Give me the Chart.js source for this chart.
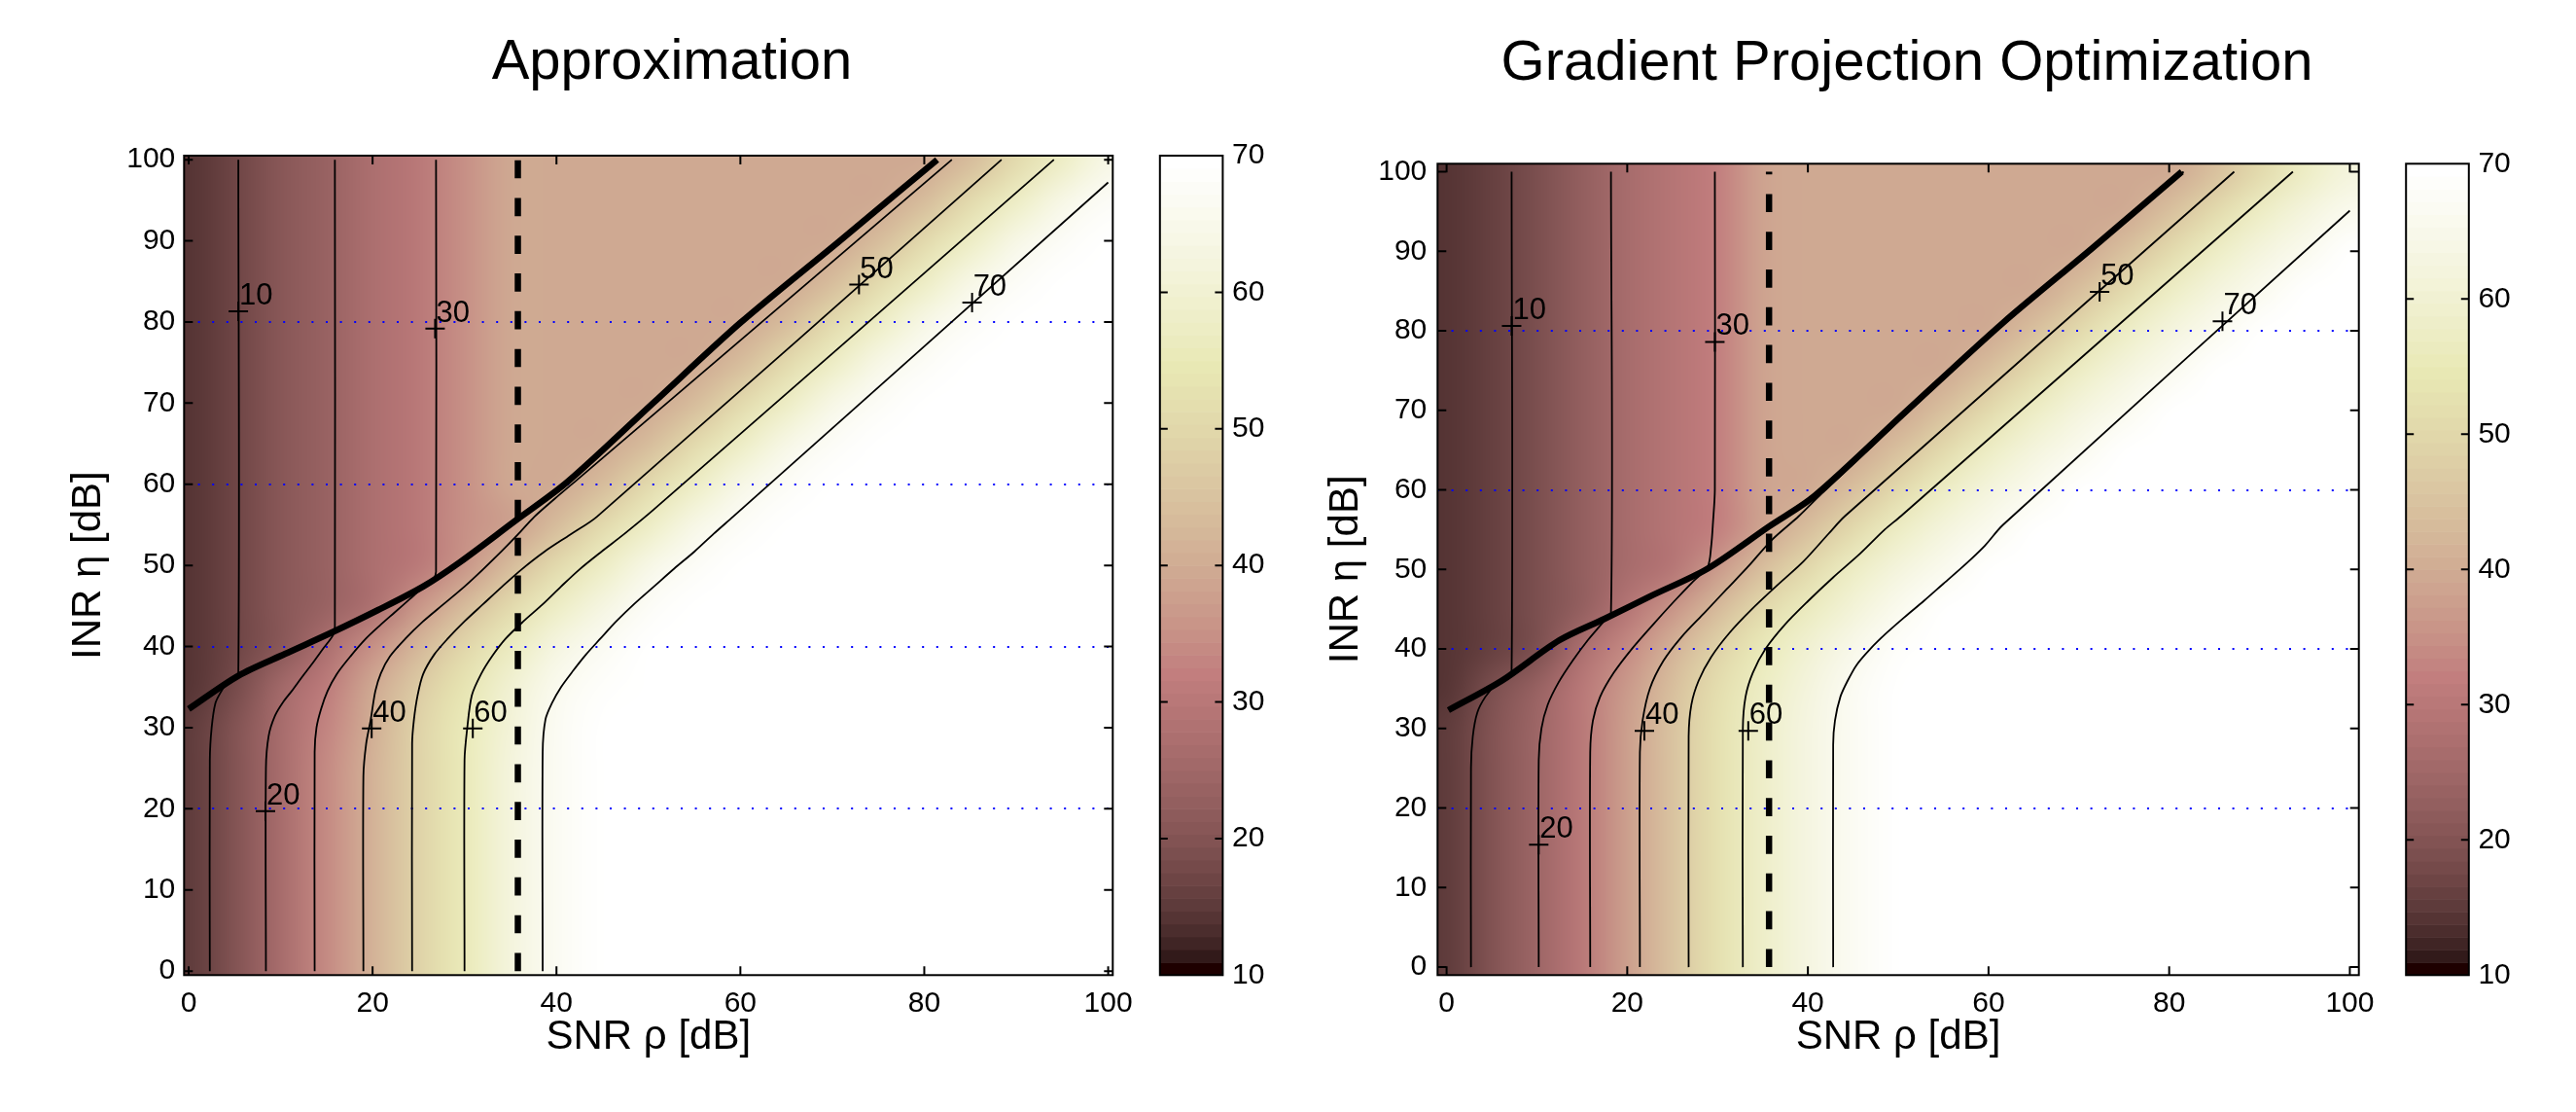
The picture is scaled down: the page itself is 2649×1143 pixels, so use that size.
<!DOCTYPE html>
<html>
<head>
<meta charset="utf-8">
<script src="https://cdn.jsdelivr.net/npm/chart.js@4.4.1/dist/chart.umd.min.js"></script>
<style>
  html, body { margin: 0; padding: 0; background: #fff; }
  #wrap { position: relative; width: 2649px; height: 1143px; }
  canvas { position: absolute; top: 0; }
  #cvApprox { left: 0; }
  #cvGrad { left: 1325px; }
</style>
</head>
<body>
<div id="wrap">
  <canvas id="cvApprox" width="1325" height="1143"></canvas>
  <canvas id="cvGrad" width="1324" height="1143"></canvas>
</div>
<script>
// ---- axes ----
const xTicks = [0, 20, 40, 60, 80, 100];
const yTicks = [0, 10, 20, 30, 40, 50, 60, 70, 80, 90, 100];
const barTicks = [10, 20, 30, 40, 50, 60, 70];
const dottedRows = [20, 40, 60, 80];

// ---- heatmap sample positions (read every 5 dB) ----
const fieldX = [0, 5, 10, 15, 20, 25, 30, 35, 40, 45, 50, 55, 60, 65, 70, 75, 80, 85, 90, 95, 100];
const fieldY = [0, 5, 10, 15, 20, 25, 30, 35, 40, 45, 50, 55, 60, 65, 70, 75, 80, 85, 90, 95, 100];

// colour values, one row per fieldY (bottom first)
const approxField = [
  [15, 20, 26.7, 33.5, 41.3, 49, 55.7, 61.8, 66.5, 69.5, 70, 70, 70, 70, 70, 70, 70, 70, 70, 70, 70],
  [15, 20, 26.7, 33.5, 41.3, 49, 55.7, 61.8, 66.5, 69.5, 70, 70, 70, 70, 70, 70, 70, 70, 70, 70, 70],
  [15, 20, 26.7, 33.5, 41.3, 49, 55.7, 61.8, 66.5, 69.5, 70, 70, 70, 70, 70, 70, 70, 70, 70, 70, 70],
  [15, 20, 26.7, 33.5, 41.3, 49, 55.7, 61.8, 66.5, 69.5, 70, 70, 70, 70, 70, 70, 70, 70, 70, 70, 70],
  [15, 20, 26.7, 33.5, 41.3, 49, 55.7, 61.8, 66.5, 69.5, 70, 70, 70, 70, 70, 70, 70, 70, 70, 70, 70],
  [15, 20, 26.7, 33.5, 41.3, 49, 55.7, 61.8, 66.5, 69.5, 70, 70, 70, 70, 70, 70, 70, 70, 70, 70, 70],
  [15, 19.6, 26.3, 33, 40.9, 48.5, 55.3, 61.5, 66.3, 69.4, 70, 70, 70, 70, 70, 70, 70, 70, 70, 70, 70],
  [14, 18.3, 25.1, 31.4, 39.3, 46.6, 53.8, 60.4, 65.4, 68.8, 70, 70, 70, 70, 70, 70, 70, 70, 70, 70, 70],
  [14, 16.7, 20.5, 27.5, 34.5, 42.2, 49.9, 56.6, 62.5, 67, 69.8, 70, 70, 70, 70, 70, 70, 70, 70, 70, 70],
  [14, 16.7, 20.5, 24, 27.5, 35.5, 43.1, 50.8, 57.4, 63.3, 67.5, 70, 70, 70, 70, 70, 70, 70, 70, 70, 70],
  [14, 16.7, 20.5, 24, 27.5, 30.5, 35.8, 43.3, 50.9, 57.5, 63.5, 67.6, 70, 70, 70, 70, 70, 70, 70, 70, 70],
  [14, 16.7, 20.5, 24, 27.5, 30.5, 34.5, 38, 43.3, 51, 57.7, 63.5, 67.6, 70, 70, 70, 70, 70, 70, 70, 70],
  [14, 16.7, 20.5, 24, 27.5, 30.5, 34.5, 39.3, 39.5, 43.3, 51, 57.7, 63.5, 67.6, 70, 70, 70, 70, 70, 70, 70],
  [14, 16.7, 20.5, 24, 27.5, 30.5, 34.5, 39.3, 39.5, 39.5, 43.3, 51, 57.7, 63.5, 67.6, 70, 70, 70, 70, 70, 70],
  [14, 16.7, 20.5, 24, 27.5, 30.5, 34.5, 39.3, 39.5, 39.5, 39.5, 43.3, 51, 57.7, 63.5, 67.6, 70, 70, 70, 70, 70],
  [14, 16.7, 20.5, 24, 27.5, 30.5, 34.5, 39.3, 39.5, 39.5, 39.5, 39.5, 43.3, 51, 57.7, 63.5, 67.6, 70, 70, 70, 70],
  [14, 16.7, 20.5, 24, 27.5, 30.5, 34.5, 39.3, 39.5, 39.5, 39.5, 39.5, 39.5, 43.3, 51, 57.7, 63.5, 67.6, 70, 70, 70],
  [14, 16.7, 20.5, 24, 27.5, 30.5, 34.5, 39.3, 39.5, 39.5, 39.5, 39.5, 39.5, 39.5, 43.3, 51, 57.7, 63.5, 67.6, 70, 70],
  [14, 16.7, 20.5, 24, 27.5, 30.5, 34.5, 39.3, 39.5, 39.5, 39.5, 39.5, 39.5, 39.5, 39.5, 43.3, 51, 57.7, 63.5, 67.6, 70],
  [14, 16.7, 20.5, 24, 27.5, 30.5, 34.5, 39.3, 39.5, 39.5, 39.5, 39.5, 39.5, 39.5, 39.5, 39.5, 43.3, 51, 57.7, 63.5, 67.6],
  [14, 16.7, 20.5, 24, 27.5, 30.5, 34.5, 39.3, 39.5, 39.5, 39.5, 39.5, 39.5, 39.5, 39.5, 39.5, 39.5, 43.3, 51, 57.7, 63.5]
];

// colour values
const gradField = [
  [15, 19.5, 24.8, 30.5, 38, 45.4, 52.3, 58, 62.7, 66.9, 69.5, 70, 70, 70, 70, 70, 70, 70, 70, 70, 70],
  [15, 19.5, 24.8, 30.5, 38, 45.4, 52.3, 58, 62.7, 66.9, 69.5, 70, 70, 70, 70, 70, 70, 70, 70, 70, 70],
  [15, 19.5, 24.8, 30.5, 38, 45.4, 52.3, 58, 62.7, 66.9, 69.5, 70, 70, 70, 70, 70, 70, 70, 70, 70, 70],
  [15, 19.5, 24.8, 30.5, 38, 45.4, 52.3, 58, 62.7, 66.9, 69.5, 70, 70, 70, 70, 70, 70, 70, 70, 70, 70],
  [15, 19.5, 24.8, 30.5, 38, 45.4, 52.3, 58, 62.7, 66.9, 69.5, 70, 70, 70, 70, 70, 70, 70, 70, 70, 70],
  [15, 19.5, 24.8, 30.5, 38, 45.4, 52.3, 58, 62.7, 66.9, 69.5, 70, 70, 70, 70, 70, 70, 70, 70, 70, 70],
  [15, 19.5, 24.8, 30.5, 38, 45.4, 52.3, 58, 62.7, 66.9, 69.5, 70, 70, 70, 70, 70, 70, 70, 70, 70, 70],
  [14, 18.7, 24, 29.7, 36.9, 44.4, 51.3, 57.4, 62, 66.4, 69.3, 70, 70, 70, 70, 70, 70, 70, 70, 70, 70],
  [14, 16.1, 19, 27.5, 33.8, 41.6, 48.8, 55.5, 60.3, 64.9, 68.6, 70, 70, 70, 70, 70, 70, 70, 70, 70, 70],
  [14, 16.1, 19, 22.7, 28.9, 35.8, 43.4, 50.4, 56.8, 61.4, 65.9, 69.2, 70, 70, 70, 70, 70, 70, 70, 70, 70],
  [14, 16.1, 19, 22.7, 26.1, 29, 36.3, 43.8, 50.8, 57, 61.7, 66.1, 69.2, 70, 70, 70, 70, 70, 70, 70, 70],
  [14, 16.1, 19, 22.7, 26.1, 29, 32.2, 38.3, 44.1, 50.9, 57.1, 61.8, 66.2, 69.3, 70, 70, 70, 70, 70, 70, 70],
  [14, 16.1, 19, 22.7, 26.1, 29, 32.2, 38.3, 39.5, 44.1, 50.9, 57.1, 61.8, 66.2, 69.3, 70, 70, 70, 70, 70, 70],
  [14, 16.1, 19, 22.7, 26.1, 29, 32.2, 38.3, 39.5, 39.5, 44.1, 50.9, 57.1, 61.8, 66.2, 69.3, 70, 70, 70, 70, 70],
  [14, 16.1, 19, 22.7, 26.1, 29, 32.2, 38.3, 39.5, 39.5, 39.5, 44.1, 50.9, 57.1, 61.8, 66.2, 69.3, 70, 70, 70, 70],
  [14, 16.1, 19, 22.7, 26.1, 29, 32.2, 38.3, 39.5, 39.5, 39.5, 39.5, 44.1, 50.9, 57.1, 61.8, 66.2, 69.3, 70, 70, 70],
  [14, 16.1, 19, 22.7, 26.1, 29, 32.2, 38.3, 39.5, 39.5, 39.5, 39.5, 39.5, 44.1, 50.9, 57.1, 61.8, 66.2, 69.3, 70, 70],
  [14, 16.1, 19, 22.7, 26.1, 29, 32.2, 38.3, 39.5, 39.5, 39.5, 39.5, 39.5, 39.5, 44.1, 50.9, 57.1, 61.8, 66.2, 69.3, 70],
  [14, 16.1, 19, 22.7, 26.1, 29, 32.2, 38.3, 39.5, 39.5, 39.5, 39.5, 39.5, 39.5, 39.5, 44.1, 50.9, 57.1, 61.8, 66.2, 69.3],
  [14, 16.1, 19, 22.7, 26.1, 29, 32.2, 38.3, 39.5, 39.5, 39.5, 39.5, 39.5, 39.5, 39.5, 39.5, 44.1, 50.9, 57.1, 61.8, 66.2],
  [14, 16.1, 19, 22.7, 26.1, 29, 32.2, 38.3, 39.5, 39.5, 39.5, 39.5, 39.5, 39.5, 39.5, 39.5, 39.5, 44.1, 50.9, 57.1, 61.8]
];

// ---- contour lines, left panel (SNR, INR) ----
const apxC10 = [[2.3, 0], [2.3, 26], [2.5, 30], [2.9, 33], [3.5, 34.4], [4.1, 35.4], [4.8, 36], [5.4, 36.8], [5.4, 100]];
const apxC20 = [[8.4, 0], [8.4, 25], [8.7, 29], [9.4, 31.5], [10.3, 33.2], [11.2, 34.5], [12.3, 36.2], [13.45, 37.9], [14.6, 39.7], [15.7, 41.4], [15.9, 42.5], [15.9, 100]];
const apxC30 = [[13.7, 0], [13.7, 27], [13.9, 30], [14.4, 32.3], [15.1, 34.5], [16.1, 36.6], [17.6, 38.8], [19.3, 41], [20.8, 42.6], [22.4, 44.2], [24, 45.8], [25.5, 47.3], [26.6, 48.3], [26.9, 49.2], [26.9, 100]];
const apxC40 = [[19, 0], [19, 24], [19.3, 28], [19.8, 31], [20.3, 34.5], [20.9, 36.7], [21.9, 38.8], [23.6, 41], [25.5, 43.1], [27.7, 45.2], [30, 47.4], [32, 49.5], [34, 51.7], [35.8, 53.8], [37.6, 56], [39.8, 58.2], [42.5, 60.8], [83, 100]];
const apxC50 = [[24.3, 0], [24.3, 28], [24.5, 31], [24.9, 34], [25.5, 36.6], [26.7, 39], [28.2, 41], [30, 43.1], [32, 45.2], [34.1, 47.4], [36.2, 49.5], [38.7, 51.7], [41.5, 53.8], [44.4, 56], [88.4, 100]];
const apxC60 = [[30, 0], [30, 26], [30.3, 30], [30.8, 34], [31.8, 36.6], [33, 38.8], [34.5, 41], [36.4, 43.1], [38.5, 45.2], [40.5, 47.4], [42.5, 49.5], [44.9, 51.7], [47.4, 53.9], [50.5, 56.8], [94.1, 100]];
const apxC70 = [[38.5, 0], [38.5, 27], [38.8, 31], [39.5, 33], [40.5, 35], [41.8, 37], [43.2, 39], [44.8, 41], [46.5, 43.1], [48.5, 45.3], [50.6, 47.4], [52.8, 49.6], [55, 51.7], [57.1, 53.9], [59.2, 56], [100, 97.2]];
const apxBoundary = [[0, 32.3], [5.4, 36.4], [10.5, 39.1], [15.7, 41.8], [20.6, 44.5], [25.5, 47.4], [29.5, 50.4], [35.4, 55.4], [41.2, 60.3], [50.5, 70], [60, 79.9], [70.7, 89.9], [81.4, 100]];
const apxDashed = [[35.8, 0], [35.8, 100]];
const apxLabelX = [5.4, 26.8, 72.9, 85.2, 19.9, 30.9, 8.35];
const apxLabelY = [81.3, 79.2, 84.6, 82.4, 29.9, 29.9, 19.7];
const apxLabelText = ['10', '30', '50', '70', '40', '60', '20'];

// ---- contour lines, right panel ----
const grdC10 = [[2.7, 0], [2.7, 25], [2.9, 29], [3.4, 32], [4.3, 34], [5.5, 35.6], [6.6, 36.5], [7.2, 37.3], [7.2, 100]];
const grdC20 = [[10.2, 0], [10.2, 26], [10.5, 30], [11.2, 33], [12.4, 35.8], [14, 38.6], [15.7, 41.2], [17.2, 43.2], [18.2, 44.6], [18.2, 100]];
const grdC30 = [[15.9, 0], [15.9, 27], [16.2, 31], [17, 34], [18.5, 37], [20.5, 40], [22.8, 43], [25.2, 46], [27.3, 48.5], [28.9, 50.3], [29.3, 53], [29.5, 56], [29.7, 60], [29.7, 100]];
const grdC40 = [[21.4, 0], [21.4, 27], [21.7, 31], [22.5, 35], [24, 38.5], [26, 41.5], [28.5, 44.5], [31, 47.5], [33.5, 50.5], [36, 53.7], [39, 56.7], [41.5, 59.5], [61.8, 81], [81.6, 100]];
const grdC50 = [[26.8, 0], [26.8, 29], [27.1, 33], [27.9, 36], [29.3, 39], [31.3, 42], [33.8, 45], [36.6, 48], [39.5, 51], [42.3, 54.5], [44.1, 56.7], [87.2, 100]];
const grdC60 = [[32.8, 0], [32.8, 30], [33.1, 34], [33.9, 37], [35.3, 40], [37.4, 43], [40, 46], [42.8, 49], [45.8, 52], [48.5, 55], [50.3, 56.7], [93.7, 100]];
const grdC70 = [[42.8, 0], [42.8, 28], [43, 31], [43.6, 34], [44.4, 36], [45.4, 38], [46.9, 40], [48.7, 42], [50.7, 44], [52.8, 46], [55, 48.2], [57.4, 50.6], [59.6, 53], [61.6, 55.6], [100, 95.1]];
const grdBoundary = [[0.2, 32.3], [6.1, 36], [12.5, 41.1], [17.5, 43.8], [22.5, 46.6], [28.9, 50.1], [35.7, 55.4], [40.7, 59.2], [51.1, 70.1], [61.6, 81], [71.5, 90.4], [81.4, 100]];
const grdDashed = [[35.7, 0], [35.7, 100]];
const grdLabelX = [7.2, 29.7, 72.3, 85.9, 21.9, 33.4, 10.2];
const grdLabelY = [80.6, 78.6, 84.9, 81.2, 29.7, 29.7, 15.4];
const grdLabelText = ['10', '30', '50', '70', '40', '60', '20'];

Chart.defaults.font.family = '"Liberation Sans", Arial, sans-serif';
Chart.defaults.color = '#000';

// MATLAB "pink" colormap, 64 levels
function pinkColor(k) {
  const m = 64, n = 24, i = k + 1;
  const gray = k / (m - 1);
  const hot = [
    Math.min(i / n, 1),
    i <= n ? 0 : Math.min((i - n) / n, 1),
    i <= 2 * n ? 0 : (i - 2 * n) / (m - 2 * n)
  ];
  return hot.map(h => Math.round(255 * Math.sqrt((2 * gray + h) / 3)));
}
const colourIndex = v => Math.max(0, Math.min(63, Math.floor((v - 10) / 60 * 64)));

const heatmapPlugin = {
  id: 'heatmap',
  beforeDraw(chart, args, opts) {
    const { ctx, chartArea: a, scales: { x, y } } = chart;
    const nx = fieldX.length, ny = fieldY.length;
    const off = document.createElement('canvas');
    off.width = nx; off.height = ny;
    const octx = off.getContext('2d');
    const img = octx.createImageData(nx, ny);
    opts.rows.forEach((row, j) => row.forEach((v, i) => {
      const [r, g, b] = pinkColor(colourIndex(v));
      img.data.set([r, g, b, 255], ((ny - 1 - j) * nx + i) * 4);
    }));
    octx.putImageData(img, 0, 0);
    const hx = (fieldX[1] - fieldX[0]) / 2, hy = (fieldY[1] - fieldY[0]) / 2;
    const x0 = x.getPixelForValue(fieldX[0] - hx), x1 = x.getPixelForValue(fieldX[nx - 1] + hx);
    const y0 = y.getPixelForValue(fieldY[ny - 1] + hy), y1 = y.getPixelForValue(fieldY[0] - hy);
    ctx.save();
    ctx.beginPath();
    ctx.rect(a.left, a.top, a.width, a.height);
    ctx.clip();
    ctx.imageSmoothingEnabled = true;
    ctx.imageSmoothingQuality = 'high';
    ctx.drawImage(off, x0, y0, x1 - x0, y1 - y0);
    ctx.restore();
  }
};

const contourLabelPlugin = {
  id: 'clabels',
  afterDatasetsDraw(chart, args, opts) {
    const { ctx, scales: { x, y } } = chart;
    ctx.save();
    ctx.font = '31px "Liberation Sans", Arial, sans-serif';
    ctx.fillStyle = '#000';
    ctx.textAlign = 'left';
    ctx.textBaseline = 'alphabetic';
    opts.xs.forEach((v, i) => {
      ctx.fillText(opts.texts[i], x.getPixelForValue(v) + 1, y.getPixelForValue(opts.ys[i]) - 7);
    });
    ctx.restore();
  }
};

// box, inward ticks, colourbar and title
const framePlugin = {
  id: 'frame',
  afterDraw(chart, args, opts) {
    const { ctx, chartArea: a, scales: { x, y, cb } } = chart;
    ctx.save();
    ctx.strokeStyle = '#000';
    ctx.lineWidth = 2;
    ctx.strokeRect(a.left, a.top, a.width, a.height);
    const tl = 9;
    ctx.beginPath();
    xTicks.forEach(v => {
      const px = x.getPixelForValue(v);
      ctx.moveTo(px, a.bottom); ctx.lineTo(px, a.bottom - tl);
      ctx.moveTo(px, a.top); ctx.lineTo(px, a.top + tl);
    });
    yTicks.forEach(v => {
      const py = y.getPixelForValue(v);
      ctx.moveTo(a.left, py); ctx.lineTo(a.left + tl, py);
      ctx.moveTo(a.right, py); ctx.lineTo(a.right - tl, py);
    });
    ctx.stroke();

    // colourbar
    const left = a.right + opts.cbGap, w = opts.cbWidth;
    const step = 60 / 64;
    for (let k = 0; k < 64; k++) {
      const [r, g, b] = pinkColor(k);
      const yTop = cb.getPixelForValue(10 + (k + 1) * step);
      const yBot = cb.getPixelForValue(10 + k * step);
      ctx.fillStyle = `rgb(${r},${g},${b})`;
      ctx.fillRect(left, yTop, w, yBot - yTop + 0.6);
    }
    ctx.strokeRect(left, cb.top, w, cb.bottom - cb.top);
    ctx.beginPath();
    barTicks.slice(1, -1).forEach(v => {
      const py = cb.getPixelForValue(v);
      ctx.moveTo(left, py); ctx.lineTo(left + 8, py);
      ctx.moveTo(left + w, py); ctx.lineTo(left + w - 8, py);
    });
    ctx.stroke();

    ctx.fillStyle = '#000';
    ctx.font = '58px "Liberation Sans", Arial, sans-serif';
    ctx.textAlign = 'center';
    ctx.textBaseline = 'alphabetic';
    ctx.fillText(opts.title, opts.titleX, opts.titleY);
    ctx.restore();
  }
};

function line(pts, width, dash, tension) {
  return {
    data: pts.map(p => ({ x: p[0], y: p[1] })),
    showLine: true,
    borderColor: '#000',
    borderWidth: width,
    borderDash: dash || [],
    pointRadius: 0,
    tension: tension || 0,
    fill: false
  };
}

function drawPanel(id, p) {
  const datasets = p.contours.map(c => line(c, 1.8, null, 0.3));
  datasets.push(line(p.boundary, 6.5, null, 0.3));
  datasets.push(line(p.dashed, 6.5, [18.7, 20.1]));
  datasets.push({
    data: p.labelX.map((v, i) => ({ x: v, y: p.labelY[i] })),
    showLine: false,
    pointStyle: 'cross',
    pointRadius: 10,
    borderColor: '#000',
    borderWidth: 2
  });

  return new Chart(document.getElementById(id), {
    type: 'scatter',
    data: { datasets },
    options: {
      responsive: false,
      animation: false,
      devicePixelRatio: 1,
      layout: { padding: p.padding },
      plugins: {
        legend: { display: false },
        tooltip: { enabled: false },
        heatmap: { rows: p.field },
        clabels: { xs: p.labelX, ys: p.labelY, texts: p.labelText },
        frame: { title: p.title, titleX: p.titleX, titleY: p.titleY, cbGap: 48.5, cbWidth: 64.6 }
      },
      scales: {
        x: {
          type: 'linear', min: p.lim[0], max: p.lim[1],
          afterBuildTicks: s => { s.ticks = xTicks.map(v => ({ value: v })); },
          afterFit: s => { s.height = p.xAxisH; },
          grid: { display: false, drawTicks: false },
          border: { display: false },
          ticks: { font: { size: 30 }, padding: 11, maxRotation: 0, autoSkip: false },
          title: { display: true, text: 'SNR ρ [dB]', font: { size: 42 }, padding: { top: 0, bottom: p.xTitlePad } }
        },
        y: {
          type: 'linear', min: p.lim[0], max: p.lim[1],
          afterBuildTicks: s => { s.ticks = yTicks.map(v => ({ value: v })); },
          afterFit: s => { s.width = p.yAxisW; },
          grid: {
            drawTicks: false, lineWidth: 2,
            color: c => dottedRows.includes(c.tick && c.tick.value) ? '#0000ff' : 'rgba(0,0,0,0)'
          },
          border: { display: false, dash: [2, 12.6] },
          ticks: { font: { size: 30 }, padding: p.yTickPad, autoSkip: false },
          title: { display: true, text: 'INR η [dB]', font: { size: 42 }, padding: { top: 5.8, bottom: 0 } }
        },
        cb: {
          type: 'linear', position: 'right', min: 10, max: 70,
          afterBuildTicks: s => { s.ticks = barTicks.map(v => ({ value: v })); },
          afterFit: s => { s.width = 170; },
          grid: { display: false, drawTicks: false },
          border: { display: false },
          ticks: { font: { size: 30 }, padding: 122.7, autoSkip: false }
        }
      }
    },
    plugins: [heatmapPlugin, contourLabelPlugin, framePlugin]
  });
}

drawPanel('cvApprox', {
  title: 'Approximation', titleX: 691, titleY: 81,
  lim: [-0.5, 100.5],
  padding: { left: 60, right: 10.7, top: 160, bottom: 0 },
  yAxisW: 129.3, xAxisH: 97, xTitlePad: 7.8, yTickPad: 9,
  field: approxField,
  contours: [apxC10, apxC20, apxC30, apxC40, apxC50, apxC60, apxC70],
  boundary: apxBoundary, dashed: apxDashed,
  labelX: apxLabelX, labelY: apxLabelY, labelText: apxLabelText
});

drawPanel('cvGrad', {
  title: 'Gradient Projection Optimization', titleX: 636, titleY: 82,
  lim: [-1, 101],
  padding: { left: 28, right: 53.3, top: 168.3, bottom: 0 },
  yAxisW: 125.3, xAxisH: 96.3, xTitlePad: 7.1, yTickPad: 11,
  field: gradField,
  contours: [grdC10, grdC20, grdC30, grdC40, grdC50, grdC60, grdC70],
  boundary: grdBoundary, dashed: grdDashed,
  labelX: grdLabelX, labelY: grdLabelY, labelText: grdLabelText
});
</script>
</body>
</html>
